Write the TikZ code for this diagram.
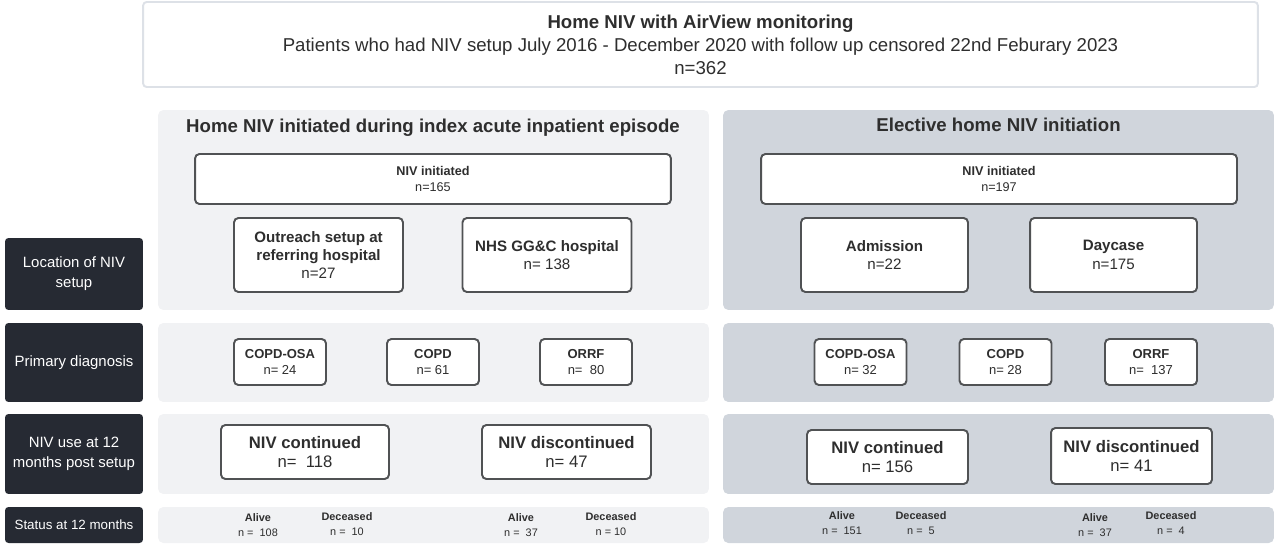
\documentclass[tikz,border=0pt]{standalone}
\usepackage{fontspec}
\setmainfont{Liberation Sans}
\usepackage{tikz}
\usetikzlibrary{positioning, calc}

\definecolor{panelL}{HTML}{F1F2F4}
\definecolor{panelR}{HTML}{D0D5DC}
\definecolor{rowdark}{HTML}{262A33}
\definecolor{boxline}{HTML}{505254}
\definecolor{topline}{HTML}{DDE1E7}
\definecolor{txt}{HTML}{2E2E2E}

\begin{document}
\begin{tikzpicture}[
    x=0.02cm, y=-0.02cm,
    every node/.style={font=\fontsize{8.5}{10}\selectfont, text=txt, inner sep=0pt},
    topbox/.style={draw=topline, line width=1.1pt, rounded corners=2pt, fill=white, minimum width=22.3cm, minimum height=1.7cm, align=center, font=\fontsize{10.6}{12.6}\selectfont},
    lpanel/.style={fill=panelL, rounded corners=3pt, minimum width=11.02cm},
    rpanel/.style={fill=panelR, rounded corners=3pt, minimum width=11.02cm},
    rowlbl/.style={fill=rowdark, text=white, rounded corners=2pt, minimum width=2.76cm, align=center, font=\fontsize{8.5}{11.5}\selectfont},
    paneltitle/.style={font=\bfseries\fontsize{10.6}{12}\selectfont},
    cbox/.style={draw=boxline, line width=1.1pt, rounded corners=2.5pt, fill=white, align=center},
    wide/.style={cbox, minimum width=9.52cm, minimum height=1.0cm, font=\fontsize{7.2}{9.5}\selectfont},
    loc/.style={cbox, minimum height=1.48cm, font=\fontsize{8.6}{10.5}\selectfont},
    diag/.style={cbox, minimum width=1.84cm, minimum height=0.92cm, font=\fontsize{7.4}{9.5}\selectfont},
    usebox/.style={cbox, minimum height=1.08cm, font=\fontsize{9.5}{11}\selectfont},
    stat/.style={align=center, font=\fontsize{6.2}{8.5}\selectfont}
]
\useasboundingbox (0,0) rectangle (1280,547);

% ===== Cabecera =====
\node[topbox] (top) at (700.5,44.5) {\textbf{Home NIV with AirView monitoring}\\[0.5pt]
  Patients who had NIV setup July 2016 - December 2020 with follow up censored 22nd Feburary 2023\\[0.5pt]
  n=362};

% ===== Paneles de fondo =====
\node[lpanel, minimum height=4cm] (pL1) at (433.5,210) {};
\node[rpanel, minimum height=4cm] (pR1) at (998.5,210) {};
\node[lpanel, minimum height=1.58cm] (pL2) at (433.5,362.5) {};
\node[rpanel, minimum height=1.58cm] (pR2) at (998.5,362.5) {};
\node[lpanel, minimum height=1.6cm] (pL3) at (433.5,454) {};
\node[rpanel, minimum height=1.6cm] (pR3) at (998.5,454) {};
\node[lpanel, minimum height=0.72cm] (pL4) at (433.5,525) {};
\node[rpanel, minimum height=0.72cm] (pR4) at (998.5,525) {};

\node[paneltitle] (tL) at (433,128) {Home NIV initiated during index acute inpatient episode};
\node[paneltitle] (tR) at (998.5,125) {Elective home NIV initiation};

% ===== Etiquetas de fila =====
\node[rowlbl, minimum height=1.44cm] (r1) at (74,274) {Location of NIV\\setup};
\node[rowlbl, minimum height=1.58cm] (r2) at (74,362.5) {Primary diagnosis};
\node[rowlbl, minimum height=1.6cm] (r3) at (74,454) {NIV use at 12\\months post setup};
\node[rowlbl, minimum height=0.72cm, font=\fontsize{7.6}{9}\selectfont] (r4) at (74,525) {Status at 12 months};

% ===== Fila 1: lugar de inicio =====
\node[wide] (niL) at (433,179) {\textbf{NIV initiated}\\n=165};
\node[wide] (niR) at (999,179) {\textbf{NIV initiated}\\n=197};
\node[loc, minimum width=3.38cm] (outr) at (318.5,255) {\textbf{Outreach setup at}\\\textbf{referring hospital}\\n=27};
\node[loc, minimum width=3.38cm] (nhs) at (547,255) {\textbf{NHS GG\&C hospital}\\n= 138};
\node[loc, minimum width=3.34cm] (adm) at (884.5,255) {\textbf{Admission}\\n=22};
\node[loc, minimum width=3.34cm] (dayc) at (1113.5,255) {\textbf{Daycase}\\n=175};

% ===== Fila 2: diagnóstico =====
\node[diag] (dL1) at (280,362) {\textbf{COPD-OSA}\\n= 24};
\node[diag] (dL2) at (433,362) {\textbf{COPD}\\n= 61};
\node[diag] (dL3) at (586,362) {\textbf{ORRF}\\n=\ \ 80};
\node[diag] (dR1) at (860.5,362) {\textbf{COPD-OSA}\\n= 32};
\node[diag] (dR2) at (1005.5,362) {\textbf{COPD}\\n= 28};
\node[diag] (dR3) at (1151,362) {\textbf{ORRF}\\n=\ \ 137};

% ===== Fila 3: uso a 12 meses =====
\node[usebox, minimum width=3.36cm] (uL1) at (305,452) {\textbf{NIV continued}\\n=\ \ 118};
\node[usebox, minimum width=3.38cm] (uL2) at (566.5,452) {\textbf{NIV discontinued}\\n= 47};
\node[usebox, minimum width=3.22cm] (uR1) at (887.5,457) {\textbf{NIV continued}\\n= 156};
\node[usebox, minimum width=3.22cm, minimum height=1.12cm] (uR2) at (1131.5,456) {\textbf{NIV discontinued}\\n= 41};

% ===== Fila 4: estado a 12 meses =====
\node[stat] (aL1) at (258,525) {\textbf{Alive}\\n =\ \ 108};
\node[stat] (xL1) at (347,524) {\textbf{Deceased}\\n =\ \ 10};
\node[stat] (aL2) at (521,525.5) {\textbf{Alive}\\n =\ \ 37};
\node[stat] (xL2) at (611,524.5) {\textbf{Deceased}\\n = 10};
\node[stat] (aR1) at (842,523.5) {\textbf{Alive}\\n =\ \ 151};
\node[stat] (xR1) at (921,523) {\textbf{Deceased}\\n =\ \ 5};
\node[stat] (aR2) at (1095,525.5) {\textbf{Alive}\\n =\ \ 37};
\node[stat] (xR2) at (1171,523) {\textbf{Deceased}\\n =\ \ 4};

\end{tikzpicture}
\end{document}
